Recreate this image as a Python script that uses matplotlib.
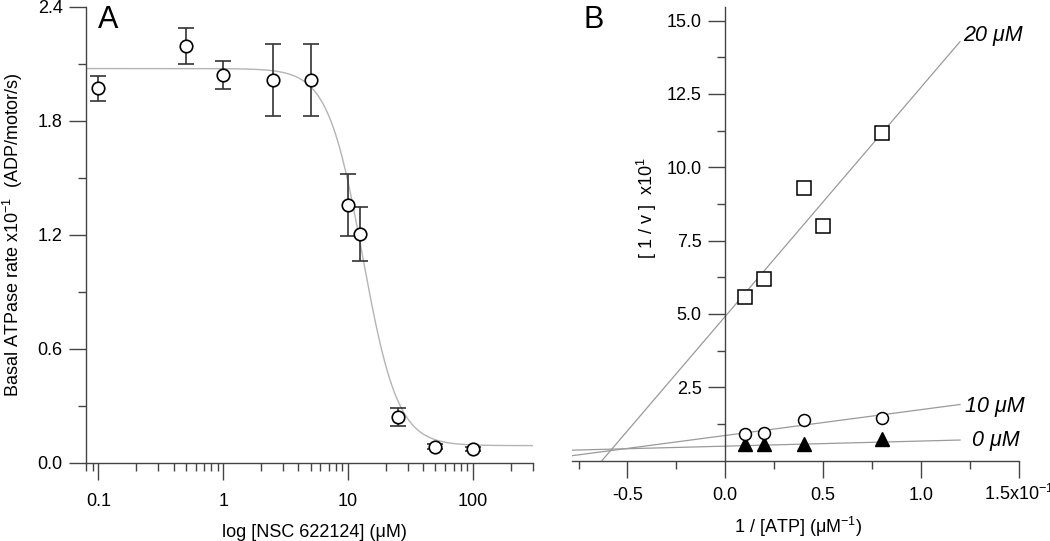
import numpy as np
import matplotlib.pyplot as plt
from matplotlib.ticker import LogLocator, NullFormatter, FixedLocator, FixedFormatter, MultipleLocator

plt.rcParams['font.family'] = ['Liberation Sans', 'DejaVu Sans']
plt.rcParams['mathtext.fontset'] = 'custom'
plt.rcParams['mathtext.rm'] = 'Liberation Sans'
plt.rcParams['mathtext.it'] = 'Liberation Sans:italic'

#####################################################################
# data, panel A : basal ATPase rate vs inhibitor concentration
#####################################################################
conc = [0.1, 0.5, 1, 2.5, 5, 10, 12.5, 25, 50, 100]            # uM
rate = [1.97, 2.195, 2.04, 2.015, 2.015, 1.357, 1.204, 0.24, 0.085, 0.072]
rate_err = [0.068, 0.094, 0.073, 0.19, 0.19, 0.162, 0.14, 0.046, 0.012, 0.01]

# sigmoid fit parameters (top, bottom, IC50, hill)
fit_top, fit_bottom, fit_ic50, fit_hill = 2.075, 0.09, 13.1, 3.1

#####################################################################
# data, panel B : double reciprocal plot
#####################################################################
inv_atp = [0.1, 0.2, 0.4, 0.8]            # x10^-1 uM^-1
inv_atp_20 = [0.1, 0.2, 0.4, 0.5, 0.8]
inv_v_20 = [5.59, 6.19, 9.30, 8.0, 11.18]
inv_v_10 = [0.92, 0.94, 1.39, 1.44]
inv_v_0 = [0.58, 0.58, 0.58, 0.74]

# linear fits: label -> (intercept, slope)
line_labels = ['20 μM', '10 μM', '0 μM']
line_fits = [(4.92, 7.8), (0.86, 0.88), (0.496, 0.174)]
label_x = [1.216, 1.226, 1.262]
label_y = [14.5, 1.84, 0.69]

axcol = '#444444'
fig = plt.figure(figsize=(10.5, 5.41), dpi=100)

# ---------------- panel A
axA = fig.add_axes([0.0821, 0.1447, 0.4252, 0.8427])
xs = np.logspace(np.log10(0.08), np.log10(300), 400)
fit = fit_bottom + (fit_top - fit_bottom) / (1 + (xs / fit_ic50) ** fit_hill)
axA.plot(xs, fit, color='#b4b4b4', lw=1.0, zorder=1)
axA.errorbar(conc, rate, yerr=rate_err, fmt='o', ms=9, mfc='white', mec='black',
             mew=1.2, ecolor='#333333', elinewidth=1.2, capsize=5.5, capthick=1.2, zorder=3)
axA.set_xscale('log')
axA.set_xlim(0.08, 300)
axA.set_ylim(0, 2.4)
axA.xaxis.set_major_locator(FixedLocator([0.1, 1, 10, 100]))
axA.xaxis.set_major_formatter(FixedFormatter(['0.1', '1', '10', '100']))
axA.xaxis.set_minor_locator(LogLocator(base=10, subs=np.arange(2, 10), numticks=20))
axA.xaxis.set_minor_formatter(NullFormatter())
axA.yaxis.set_major_locator(MultipleLocator(0.6))
axA.yaxis.set_minor_locator(MultipleLocator(0.3))
axA.yaxis.set_major_formatter(plt.FuncFormatter(lambda v, p: '%.1f' % v))
axA.set_xlabel('log [NSC 622124] (μM)', fontsize=13)
axA.xaxis.set_label_coords(0.5115, -0.163)
axA.xaxis.label.set_va('baseline')
axA.text(-0.163, 0.5, 'Basal ATPase rate x10$^{-1}$  (ADP/motor/s)', transform=axA.transAxes,
         rotation=90, ha='center', va='center', fontsize=13)
axA.text(108, 541 - 19.5, 'A', transform=None, fontsize=22, ha='center', va='center')

# ---------------- panel B
axB = fig.add_axes([0.5445, 0.1484, 0.4257, 0.8381])
xl = np.array([-0.785, 1.2])
for (b, m), lab, tx, ty in zip(line_fits, line_labels, label_x, label_y):
    axB.plot(xl, b + m * xl, color='#9a9a9a', lw=0.9, zorder=1)
    axB.text(tx, ty, lab, fontsize=15.5, style='italic', ha='left', va='center')
axB.plot(inv_atp_20, inv_v_20, 's', ms=9.5, mfc='white', mec='black', mew=1.1, zorder=3)
axB.plot(inv_atp, inv_v_0, '^', ms=10, mfc='black', mec='black', zorder=3)
axB.plot(inv_atp, inv_v_10, 'o', ms=8.6, mfc='white', mec='black', mew=1.1, zorder=4)
axB.set_xlim(-0.785, 1.5)
axB.set_ylim(0, 15.45)
axB.spines['left'].set_position(('data', 0))
axB.xaxis.set_major_locator(FixedLocator([-0.5, 0.0, 0.5, 1.0, 1.5]))
axB.xaxis.set_major_formatter(FixedFormatter(['-0.5', '0.0', '0.5', '1.0', '1.5x10$^{-1}$']))
axB.xaxis.set_minor_locator(FixedLocator([-0.75, -0.25, 0.25, 0.75, 1.25]))
axB.yaxis.set_major_locator(FixedLocator([2.5, 5.0, 7.5, 10.0, 12.5, 15.0]))
axB.yaxis.set_major_formatter(plt.FuncFormatter(lambda v, p: '%.1f' % v))
axB.yaxis.set_minor_locator(FixedLocator([1.25, 3.75, 6.25, 8.75, 11.25, 13.75]))
axB.set_xlabel('1 / [ATP] (μM$^{-1}$)', fontsize=13)
axB.xaxis.set_label_coords(0.506, -0.160)
axB.xaxis.label.set_va('baseline')
axB.text(0.169, 0.557, '[ 1 / v ]  x10$^{1}$', transform=axB.transAxes,
         rotation=90, ha='center', va='center', fontsize=13)
axB.text(593.5, 541 - 20, 'B', transform=None, fontsize=22, ha='center', va='center')

for ax, xpad in ((axA, 19), (axB, 16.5)):
    ax.spines['top'].set_visible(False)
    ax.spines['right'].set_visible(False)
    for s in ('left', 'bottom'):
        ax.spines[s].set_color(axcol)
        ax.spines[s].set_linewidth(1.0)
    ax.tick_params(which='major', direction='out', length=12, width=1.0, color=axcol,
                   labelsize=13, pad=5)
    ax.tick_params(which='minor', direction='out', length=6, width=1.0, color=axcol)
    ax.tick_params(axis='x', which='major', pad=xpad)
    for t in ax.xaxis.get_majorticklabels():
        t.set_verticalalignment('baseline')

plt.savefig('out.png', dpi=100)
